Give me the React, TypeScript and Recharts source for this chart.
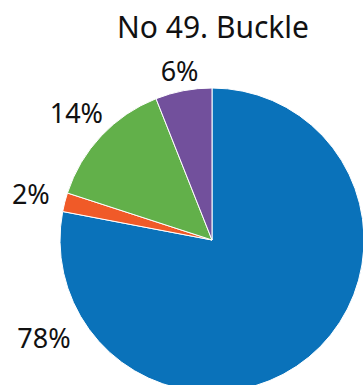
import React from 'react';
import { PieChart, Pie, Cell } from 'recharts';

const sliceNames = ['A', 'B', 'C', 'D'];
const sliceValues = [78, 2, 14, 6];
const sliceColors = ['#0a72ba', '#f05a28', '#62b04a', '#72509c'];
const sliceLabels = ['78%', '2%', '14%', '6%'];

const data = sliceNames.map((name, i) => ({ name, value: sliceValues[i] }));

const RAD = Math.PI / 180;

// label radius / angle tweaks so labels sit where the original put them
const labelRadius = [194, 187, 186, 173];
const labelAngleOverride: (number | null)[] = [210, null, null, null];

const renderLabel = (props: any) => {
    const { cx, cy, midAngle, index } = props;
    const angle = labelAngleOverride[index] ?? midAngle;
    const r = labelRadius[index];
    const x = cx + r * Math.cos(-angle * RAD);
    const y = cy + r * Math.sin(-angle * RAD);
    return (
        <text
            x={x}
            y={y}
            textAnchor="middle"
            dominantBaseline="central"
            fill="#111"
            fontSize={27}
            fontFamily="'Noto Sans', sans-serif"
        >
            {sliceLabels[index]}
        </text>
    );
};

export default function App() {
    return (
        <div style={{ position: 'absolute', left: 0, top: 0, width: 363, height: 385, overflow: 'hidden', background: '#fff' }}>
            <div
                style={{
                    position: 'absolute',
                    left: 0,
                    top: 7,
                    width: 426,
                    textAlign: 'center',
                    fontFamily: "'Noto Sans', sans-serif",
                    fontSize: 30,
                    lineHeight: '40px',
                    color: '#111',
                }}
            >
                No 49. Buckle
            </div>
            <PieChart
                width={363}
                height={385}
                margin={{ top: 0, right: 0, bottom: 0, left: 0 }}
                style={{ position: 'absolute', left: 0, top: 0 }}
            >
                <Pie
                    data={data}
                    dataKey="value"
                    cx={212}
                    cy={240}
                    outerRadius={152}
                    startAngle={90}
                    endAngle={-270}
                    stroke="#fff"
                    strokeWidth={1}
                    label={renderLabel}
                    labelLine={false}
                    isAnimationActive={false}
                >
                    {data.map((d, i) => (
                        <Cell key={d.name} fill={sliceColors[i]} />
                    ))}
                </Pie>
            </PieChart>
        </div>
    );
}
